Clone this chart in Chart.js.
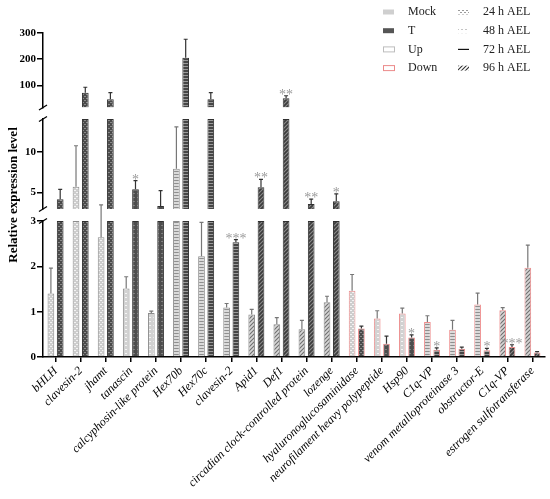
<!DOCTYPE html>
<html>
<head>
<meta charset="utf-8">
<script src="https://cdn.jsdelivr.net/npm/chart.js@4.4.1/dist/chart.umd.min.js"></script>
<style>
  html, body { margin: 0; padding: 0; background: #fff; }
  #wrap { position: relative; width: 550px; height: 499px; }
</style>
</head>
<body>
<div id="wrap"><canvas id="chart"></canvas></div>
<script>
// ---------- Data ----------
const genes = [
  "bHLH", "clavesin-2", "jhamt", "tanascin", "calcyphosin-like protein",
  "Hex70b", "Hex70c", "clavesin-2", "Apid1", "Def1",
  "circadian clock-controlled protein", "lozenge", "hyaluronoglucosaminidase",
  "neurofilament heavy polypeptide", "Hsp90", "C1q-VP",
  "venom metalloproteinase 3", "obstructor-E", "C1q-VP", "estrogen sulfotransferase"
];
const regulation = ["up", "up", "up", "up", "up", "up", "up", "up", "up", "up", "up", "up",
  "down", "down", "down", "down", "down", "down", "down", "down"];
// index into timeLabels
const timePoint = [0, 0, 0, 1, 1, 2, 2, 2, 3, 3, 3, 3, 0, 1, 1, 2, 2, 2, 3, 3];

const mockMean = [1.40, 5.73, 2.64, 1.51, 0.97, 7.93, 2.22, 1.09, 0.94, 0.72,
  0.61, 1.21, 1.46, 0.85, 0.96, 0.77, 0.60, 1.16, 1.03, 1.97];
const mockSD = [0.56, 5.0, 0.86, 0.26, 0.04, 5.1, 0.75, 0.09, 0.11, 0.15,
  0.20, 0.13, 0.36, 0.17, 0.12, 0.14, 0.21, 0.25, 0.06, 0.50];
const tMean = [4.2, 71.7, 46.5, 5.4, 3.38, 205, 46.5, 2.53, 5.66, 50.3,
  3.62, 3.95, 0.63, 0.29, 0.43, 0.16, 0.18, 0.15, 0.22, 0.10];
const tSD = [1.2, 20.7, 25.2, 1.06, 1.86, 71, 25.2, 0.06, 0.97, 9.7,
  0.58, 0.89, 0.05, 0.17, 0.06, 0.04, 0.04, 0.04, 0.05, 0.02];
const signif = ["", "", "", "*", "", "", "", "***", "**", "**",
  "**", "*", "", "", "*", "*", "", "*", "***", ""];

// broken y axis: three pieces
const botRange = [0, 3];
const midRange = [3, 14];
const topRange = [15, 300];
const botTicks = [0, 1, 2, 3];
const midTicks = [5, 10];
const topTicks = [100, 200, 300];

const groupLabels = ["Mock", "T", "Up", "Down"];
const timeLabels = ["24 h AEL", "48 h AEL", "72 h AEL", "96 h AEL"];

// ---------- Helpers ----------
const serif = '"Liberation Serif", "Times New Roman", serif';

function makePattern(kind, bg, fg) {
  const c = document.createElement("canvas");
  c.width = 4;
  c.height = kind === 2 ? 3 : 4;
  const g = c.getContext("2d");
  g.fillStyle = bg;
  g.fillRect(0, 0, c.width, c.height);
  g.fillStyle = fg;
  g.strokeStyle = fg;
  if (kind === 0) {          // 24 h: dense dashes
    g.fillRect(0, 0, 2, 1);
    g.fillRect(2, 2, 2, 1);
  } else if (kind === 1) {   // 48 h: sparse dots
    g.fillRect(1, 1, 2, 1);
  } else if (kind === 2) {   // 72 h: horizontal lines
    g.fillRect(0, 0, 4, 1);
  } else {                   // 96 h: diagonal
    g.lineWidth = 1.1;
    g.beginPath();
    g.moveTo(0, 4); g.lineTo(4, 0);
    g.moveTo(-1, 1); g.lineTo(1, -1);
    g.moveTo(3, 5); g.lineTo(5, 3);
    g.stroke();
  }
  return g.createPattern(c, "repeat");
}

const mockPatterns = [
  makePattern(0, "#cdcdcd", "#f3f3f3"),
  makePattern(1, "#d2d2d2", "#f5f5f5"),
  makePattern(2, "#dadada", "#8f8f8f"),
  makePattern(3, "#d6d6d6", "#707070")
];
const tPatterns = [
  makePattern(0, "#4a4a4a", "#8a8a8a"),
  makePattern(1, "#4d4d4d", "#7d7d7d"),
  makePattern(2, "#454545", "#9a9a9a"),
  makePattern(3, "#3c3c3c", "#8c8c8c")
];
const legendPatterns = [
  makePattern(0, "#ffffff", "#9a9a9a"),
  makePattern(1, "#ffffff", "#c4c4c4"),
  null,
  makePattern(3, "#ffffff", "#333333")
];

function segment(values, range, floating) {
  return values.map(v => {
    if (v <= range[0]) return null;
    const end = Math.min(v, range[1]);
    return floating ? [range[0], end] : end;
  });
}

function yPixel(chart, v) {
  if (v <= botRange[1]) return chart.scales.yBot.getPixelForValue(v);
  if (v <= midRange[1]) return chart.scales.yMid.getPixelForValue(v);
  return chart.scales.yTop.getPixelForValue(Math.max(v, topRange[0]));
}

function yAxis(range, ticks, h, order) {
  return {
    type: "linear", position: "left", stack: "y", stackWeight: h, weight: order,
    min: range[0], max: range[1], stacked: false,
    afterBuildTicks: a => { a.ticks = ticks.map(v => ({ value: v })); },
    grid: { drawOnChartArea: false, tickLength: 6, color: "#000", lineWidth: 1.5 },
    border: { color: "#000", width: 1.5 },
    ticks: { color: "#000", padding: 1, font: { family: serif, size: 11, weight: "bold" } },
    afterFit: a => { a.width = 43; }
  };
}

function spacer(h, order) {
  return { type: "linear", position: "left", stack: "y", stackWeight: h, weight: order, display: false };
}

const mockFill = timePoint.map(t => mockPatterns[t]);
const tFill = timePoint.map(t => tPatterns[t]);
const mockBorder = regulation.map(r => r === "up" ? "#8c8c8c" : "#ee8c8c");
const tBorder = regulation.map(r => r === "up" ? "#303030" : "#ee8c8c");

function barSet(label, data, axis, stack, fill, border) {
  return {
    label, data, yAxisID: axis, stack,
    backgroundColor: fill, borderColor: border, borderWidth: 1,
    categoryPercentage: 0.74, barPercentage: 0.72
  };
}

// ---------- Plugins ----------
const decorPlugin = {
  id: "decor",
  afterDatasetsDraw(chart) {
    const ctx = chart.ctx;
    const mockMeta = chart.getDatasetMeta(0);
    const tMeta = chart.getDatasetMeta(3);

    // error bars (upper only)
    const drawErr = (bar, mean, sd, color) => {
      const y0 = yPixel(chart, mean);
      const y1 = yPixel(chart, mean + sd);
      ctx.strokeStyle = color;
      ctx.lineWidth = 1.2;
      ctx.beginPath();
      ctx.moveTo(bar.x, y0);
      ctx.lineTo(bar.x, y1);
      ctx.moveTo(bar.x - 2, y1);
      ctx.lineTo(bar.x + 2, y1);
      ctx.stroke();
    };
    ctx.save();
    genes.forEach((g, i) => {
      drawErr(mockMeta.data[i], mockMean[i], mockSD[i], "#777");
      drawErr(tMeta.data[i], tMean[i], tSD[i], "#333");
    });

    // significance stars
    ctx.fillStyle = "#9a9a9a";
    ctx.font = "14px " + serif;
    ctx.textAlign = "center";
    ctx.textBaseline = "alphabetic";
    signif.forEach((s, i) => {
      if (!s) return;
      const y = yPixel(chart, tMean[i] + tSD[i]);
      ctx.fillText(s, tMeta.data[i].x, y + 3);
    });
    ctx.restore();
  },
  afterDraw(chart) {
    const ctx = chart.ctx;
    const { yTop, yMid, yBot } = chart.scales;
    const ax = chart.chartArea.left;
    ctx.save();

    // axis break marks
    ctx.strokeStyle = "#000";
    ctx.lineWidth = 1.3;
    [yTop.bottom, yMid.top, yMid.bottom, yBot.top].forEach(y => {
      ctx.beginPath();
      ctx.moveTo(ax - 4, y + 2.5);
      ctx.lineTo(ax + 4, y - 2.5);
      ctx.stroke();
    });

    // y title
    ctx.fillStyle = "#000";
    ctx.font = "bold 13px " + serif;
    ctx.textAlign = "center";
    ctx.textBaseline = "middle";
    ctx.translate(14, (yTop.top + yBot.bottom) / 2);
    ctx.rotate(-Math.PI / 2);
    ctx.fillText("Relative expression level", 0, 0);
    ctx.restore();

    // legend
    ctx.save();
    ctx.font = "12px " + serif;
    ctx.textBaseline = "middle";
    ctx.textAlign = "left";
    const rowY = i => 12 + i * 18.7;
    const x1 = 383, x2 = 458, sw = 11, sh = 5;
    groupLabels.forEach((lab, i) => {
      const y = rowY(i);
      if (i === 0) { ctx.fillStyle = "#cfcfcf"; ctx.fillRect(x1, y - sh / 2, sw, sh); }
      if (i === 1) { ctx.fillStyle = "#555"; ctx.fillRect(x1, y - sh / 2, sw, sh); }
      if (i >= 2) {
        ctx.strokeStyle = i === 2 ? "#bdbdbd" : "#ec8a8a";
        ctx.lineWidth = 1;
        ctx.strokeRect(x1 + 0.5, y - sh / 2, sw, sh);
      }
      ctx.fillStyle = "#222";
      ctx.fillText(lab, 408, y);
    });
    timeLabels.forEach((lab, i) => {
      const y = rowY(i);
      if (legendPatterns[i]) {
        ctx.fillStyle = legendPatterns[i];
        ctx.fillRect(x2, y - 2.5, sw, 5);
      } else {
        ctx.strokeStyle = "#111";
        ctx.lineWidth = 1.2;
        ctx.beginPath();
        ctx.moveTo(x2, y);
        ctx.lineTo(x2 + sw, y);
        ctx.stroke();
      }
      ctx.fillStyle = "#222";
      ctx.fillText(lab, 483, y);
    });
    ctx.restore();
  }
};

// ---------- Chart ----------
function initChart() {
  const ctx = document.getElementById("chart").getContext("2d");
  new Chart(ctx, {
    type: "bar",
    data: {
      labels: genes,
      datasets: [
        barSet("Mock", segment(mockMean, botRange, false), "yBot", "mock", mockFill, mockBorder),
        barSet("Mock", segment(mockMean, midRange, true), "yMid", "mock", mockFill, mockBorder),
        barSet("Mock", segment(mockMean, topRange, true), "yTop", "mock", mockFill, mockBorder),
        barSet("T", segment(tMean, botRange, false), "yBot", "t", tFill, tBorder),
        barSet("T", segment(tMean, midRange, true), "yMid", "t", tFill, tBorder),
        barSet("T", segment(tMean, topRange, true), "yTop", "t", tFill, tBorder)
      ]
    },
    options: {
      responsive: true,
      maintainAspectRatio: false,
      animation: false,
      events: [],
      layout: { padding: { top: 33, right: 5, left: 0, bottom: 0 } },
      plugins: { legend: { display: false }, tooltip: { enabled: false } },
      scales: {
        x: {
          type: "category", offset: true,
          grid: { offset: false, drawOnChartArea: false, tickLength: 5, color: "#000", lineWidth: 1.5 },
          border: { color: "#000", width: 1.5 },
          ticks: {
            autoSkip: false, maxRotation: 45, minRotation: 45, padding: 2, color: "#000",
            font: { family: serif, size: 12, style: "italic" }
          },
          afterFit: s => { s.height = 142; }
        },
        yTop: yAxis(topRange, topTicks, 74.5, 5),
        gapA: spacer(11.5, 4),
        yMid: yAxis(midRange, midTicks, 90, 3),
        gapB: spacer(12, 2),
        yBot: yAxis(botRange, botTicks, 136, 1)
      }
    },
    plugins: [decorPlugin]
  });
}

// ---------- Start ----------
initChart();
</script>
</body>
</html>
